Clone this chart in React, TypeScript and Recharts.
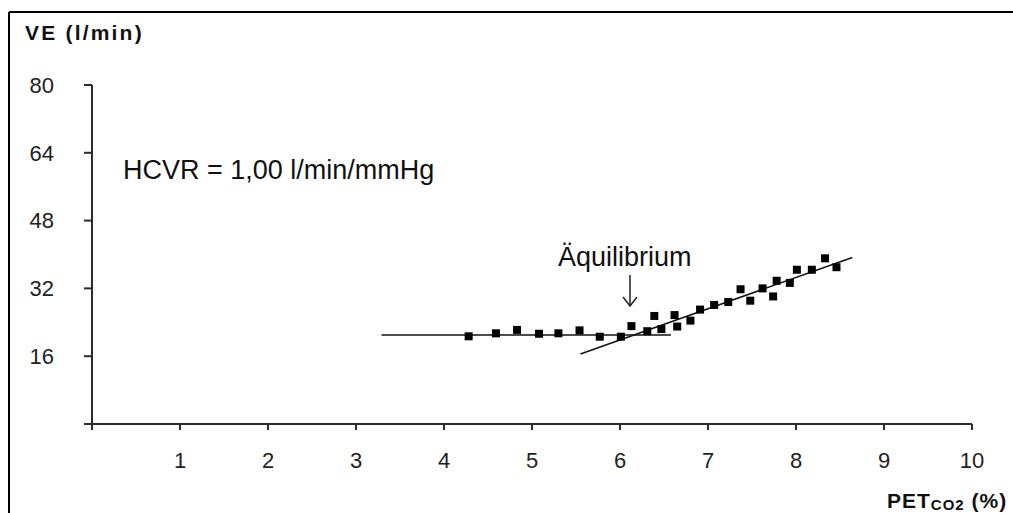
import { ComposedChart, Scatter, Line, XAxis, YAxis } from "recharts";

// PET CO2 (%) vs. minute ventilation VE (l/min)
const petCo2 = [
  4.28, 4.59, 4.83, 5.08, 5.3, 5.54, 5.77, 6.01, 6.13, 6.31, 6.39, 6.47, 6.62, 6.65,
  6.8, 6.91, 7.07, 7.23, 7.37, 7.48, 7.62, 7.74, 7.78, 7.93, 8.01, 8.18, 8.33, 8.46,
];
const ve = [
  20.7, 21.4, 22.2, 21.3, 21.4, 22.1, 20.6, 20.6, 23.1, 21.9, 25.5, 22.4, 25.7, 23.0,
  24.4, 27.0, 28.1, 28.8, 31.8, 29.1, 32.0, 30.1, 33.8, 33.3, 36.4, 36.4, 39.1, 37.0,
];

// two fitted segments: plateau and the rising (HCVR) part
const plateauX = [3.29, 6.58];
const plateauY = [21.0, 21.0];
const slopeX = [5.55, 8.64];
const slopeY = [16.5, 39.3];

const xTicks = [0, 1, 2, 3, 4, 5, 6, 7, 8, 9, 10];
const yTicks = [0, 16, 32, 48, 64, 80];

const points = petCo2.map((x, i) => ({ x, y: ve[i] }));
const plateau = plateauX.map((x, i) => ({ x, y: plateauY[i] }));
const slope = slopeX.map((x, i) => ({ x, y: slopeY[i] }));

const font = "'Liberation Sans', Arial, sans-serif";
const axisColor = "#2b2b35";

const Square = (props: any) => {
  const { cx, cy } = props;
  if (cx == null || cy == null) return <g />;
  return <rect x={cx - 4} y={cy - 4} width={8} height={8} fill="#000" />;
};

export default function App() {
  return (
    <div
      style={{
        position: "absolute",
        left: 0,
        top: 0,
        width: 1013,
        height: 513,
        background: "#fff",
        fontFamily: font,
      }}
    >
      <ComposedChart
        width={1013}
        height={513}
        margin={{ top: 85, right: 41, left: 0, bottom: 0 }}
      >
        <XAxis
          type="number"
          dataKey="x"
          domain={[0, 10]}
          ticks={xTicks}
          tickFormatter={(v) => (v === 0 ? "" : String(v))}
          height={89}
          tickSize={6}
          tickMargin={22}
          stroke={axisColor}
          strokeWidth={2}
          tick={{ fill: "#222", fontSize: 22, fontFamily: font }}
        />
        <YAxis
          type="number"
          dataKey="y"
          domain={[0, 80]}
          ticks={yTicks}
          tickFormatter={(v) => (v === 0 ? "" : String(v))}
          width={92}
          tickSize={8}
          tickMargin={30}
          stroke={axisColor}
          strokeWidth={2}
          tick={{ fill: "#222", fontSize: 22, fontFamily: font }}
        />
        <Line
          data={plateau}
          dataKey="y"
          type="linear"
          stroke="#111"
          strokeWidth={1.5}
          dot={false}
          activeDot={false}
          isAnimationActive={false}
        />
        <Line
          data={slope}
          dataKey="y"
          type="linear"
          stroke="#111"
          strokeWidth={1.5}
          dot={false}
          activeDot={false}
          isAnimationActive={false}
        />
        <Scatter data={points} shape={Square} isAnimationActive={false} />
      </ComposedChart>

      <svg
        width={1013}
        height={513}
        style={{ position: "absolute", left: 0, top: 0, pointerEvents: "none" }}
        fontFamily={font}
      >
        {/* frame of the original figure (right and bottom edges are cropped) */}
        <line x1={9} y1={12} x2={1013} y2={12} stroke="#000" strokeWidth={2} />
        <line x1={9} y1={12} x2={9} y2={513} stroke="#000" strokeWidth={2} />

        <text x={25} y={40} fontSize={21} fontWeight="bold" letterSpacing={2.2} fill="#111">
          VE (l/min)
        </text>
        <text x={887} y={508} fontSize={21} fontWeight="bold" letterSpacing={1} fill="#111">
          PET
          <tspan fontSize={15} dy={2}>CO2</tspan>
          <tspan dy={-2}> (%)</tspan>
        </text>

        <text x={123} y={179} fontSize={27} fill="#111">
          HCVR = 1,00 l/min/mmHg
        </text>

        <text x={558} y={266} fontSize={27} fill="#111">
          Äquilibrium
        </text>
        <line x1={630} y1={275} x2={630} y2={306} stroke="#222" strokeWidth={1.5} />
        <polyline
          points="623,297 630,306 637,297"
          fill="none"
          stroke="#222"
          strokeWidth={1.5}
        />
      </svg>
    </div>
  );
}
